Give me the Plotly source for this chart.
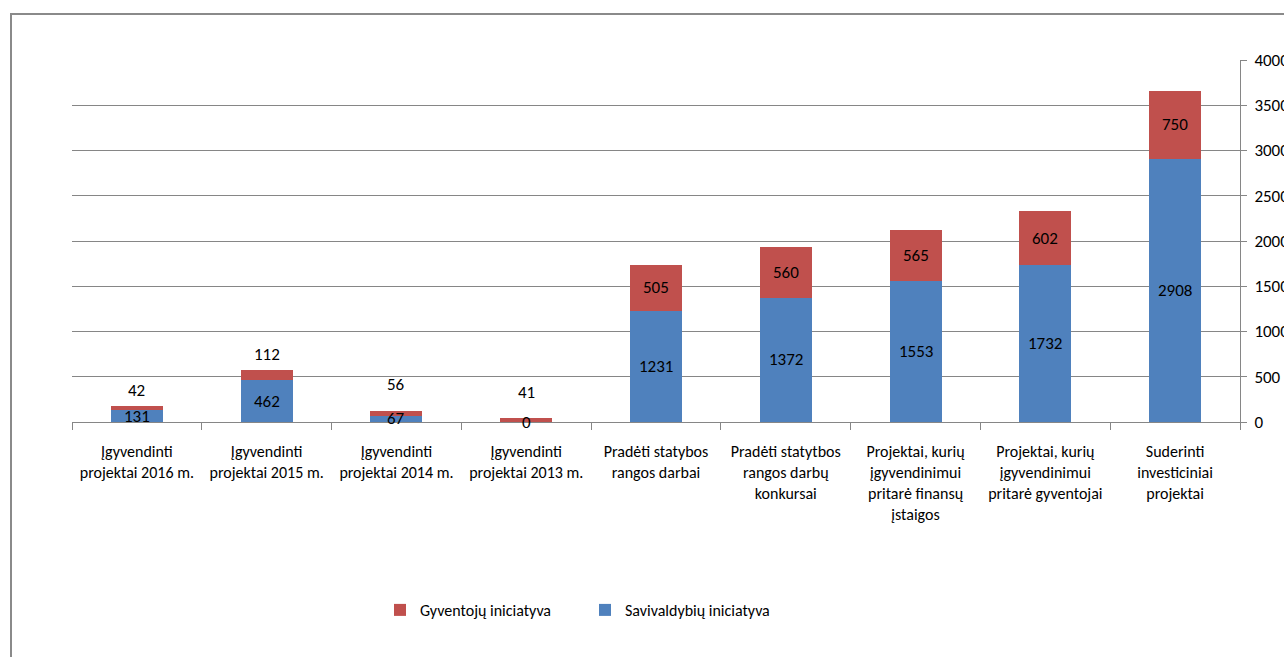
import plotly.graph_objects as go

# Categories (multi-line tick labels)
categories = [
    "Įgyvendinti<br>projektai 2016 m.",
    "Įgyvendinti<br>projektai 2015 m.",
    "Įgyvendinti<br>projektai 2014 m.",
    "Įgyvendinti<br>projektai 2013 m.",
    "Pradėti statybos<br>rangos darbai",
    "Pradėti statytbos<br>rangos darbų<br>konkursai",
    "Projektai, kurių<br>įgyvendinimui<br>pritarė finansų<br>įstaigos",
    "Projektai, kurių<br>įgyvendinimui<br>pritarė gyventojai",
    "Suderinti<br>investiciniai<br>projektai",
]
savivaldybiu = [131, 462, 67, 0, 1231, 1372, 1553, 1732, 2908]
gyventoju = [42, 112, 56, 41, 505, 560, 565, 602, 750]
y_ticks = [0, 500, 1000, 1500, 2000, 2500, 3000, 3500, 4000]

BLUE = "#4F81BD"
RED = "#C0504D"
GRID = "#868686"
FONT = "Carlito, Lato, sans-serif"

# pixel shift for red labels drawn above short stacks
small_label_shift = [16, 16, 26, 26]

fig = go.Figure()
fig.add_trace(go.Bar(x=categories, y=savivaldybiu, name="Savivaldybių iniciatyva",
                     marker=dict(color=BLUE, line=dict(width=0))))
fig.add_trace(go.Bar(x=categories, y=gyventoju, name="Gyventojų iniciatyva",
                     marker=dict(color=RED, line=dict(width=0))))

label_font = dict(size=17, color="black", family=FONT)
annotations = []
for i, (c, b, r) in enumerate(zip(categories, savivaldybiu, gyventoju)):
    annotations.append(dict(x=c, y=b / 2, text=str(b), showarrow=False,
                            xref="x", yref="y", yanchor="middle", font=label_font))
    if i < len(small_label_shift):
        annotations.append(dict(x=c, y=b + r, text=str(r), showarrow=False,
                                xref="x", yref="y", yanchor="middle",
                                yshift=small_label_shift[i], font=label_font))
    else:
        annotations.append(dict(x=c, y=b + r / 2, text=str(r), showarrow=False,
                                xref="x", yref="y", yanchor="middle", font=label_font))

# chart frame
L, R, T, B = 72, 44, 60, 235
W, H = 1284, 657
pw, ph = W - L - R, H - T - B
def px_x(p):
    return (p - L) / pw
def px_y(p):
    return (H - B - p) / ph

shapes = [dict(type="rect", xref="paper", yref="paper",
               x0=px_x(11), x1=px_x(1300), y0=px_y(14), y1=px_y(680),
               line=dict(color="#8A8A8A", width=2), fillcolor="rgba(0,0,0,0)",
               layer="below")]

fig.update_layout(
    width=W, height=H,
    margin=dict(l=L, r=R, t=T, b=B, autoexpand=False),
    barmode="stack",
    bargap=0.6,
    paper_bgcolor="white",
    plot_bgcolor="white",
    font=dict(family=FONT, size=16, color="black"),
    annotations=annotations,
    shapes=shapes,
    showlegend=True,
    legend=dict(orientation="h", traceorder="reversed",
                x=px_x(380), xanchor="left", y=px_y(610), yanchor="middle",
                font=dict(size=16, family=FONT),
                entrywidth=160, entrywidthmode="pixels",
                bgcolor="rgba(0,0,0,0)"),
    xaxis=dict(showline=True, linecolor=GRID, linewidth=1, automargin=False,
               ticks="outside", ticklen=7, tickcolor=GRID, tickson="boundaries",
               tickangle=0, showgrid=False, ticklabelstandoff=15,
               tickfont=dict(size=16, family=FONT)),
    yaxis=dict(side="right", range=[0, 4000], tickvals=y_ticks, automargin=False,
               showline=True, linecolor=GRID, linewidth=1,
               ticks="outside", ticklen=6, tickcolor=GRID, ticklabelstandoff=4,
               showgrid=True, gridcolor=GRID, gridwidth=1,
               zeroline=False, tickfont=dict(size=17, family=FONT)),
)

fig.write_html("out.html")
